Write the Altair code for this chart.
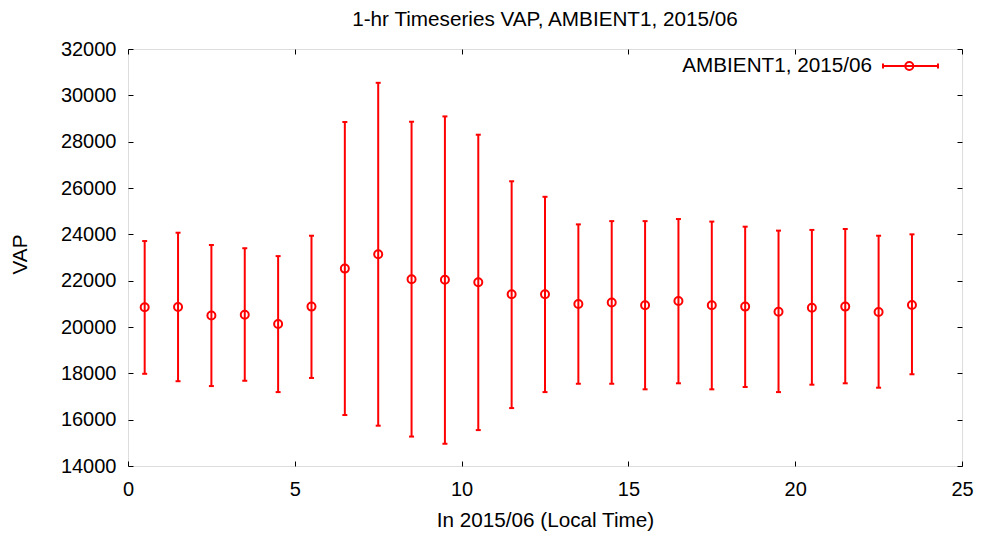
import altair as alt
import pandas as pd

# ---- data ----
hour_mid = [0.5, 1.5, 2.5, 3.5, 4.5, 5.5, 6.5, 7.5, 8.5, 9.5, 10.5, 11.5,
            12.5, 13.5, 14.5, 15.5, 16.5, 17.5, 18.5, 19.5, 20.5, 21.5, 22.5, 23.5]
vap_mean = [20850, 20860, 20500, 20530, 20130, 20880, 22520, 23140, 22060, 22040, 21930, 21410,
            21410, 20990, 21060, 20940, 21120, 20940, 20880, 20660, 20830, 20880, 20650, 20950]
vap_upper = [23710, 24070, 23540, 23400, 23060, 23940, 28850, 30540, 28860, 29090, 28300, 26290,
             25620, 24430, 24570, 24570, 24660, 24550, 24330, 24160, 24190, 24230, 23940, 24000]
vap_lower = [17980, 17660, 17450, 17680, 17190, 17800, 16200, 15740, 15270, 14960, 15550, 16500,
             17190, 17550, 17550, 17310, 17570, 17310, 17410, 17190, 17510, 17570, 17380, 17960]
series_label = "AMBIENT1, 2015/06"

x_ticks = [0, 5, 10, 15, 20, 25]
y_ticks = [14000, 16000, 18000, 20000, 22000, 24000, 26000, 28000, 30000, 32000]

df = pd.DataFrame({
    "hour": hour_mid,
    "mean": vap_mean,
    "upper": vap_upper,
    "lower": vap_lower,
    "series": [series_label] * len(hour_mid),
})

FONT = "Liberation Sans"
RED = "#ff0000"
FS = 20      # tick labels
FS2 = 20.7   # titles and legend text

xscale = alt.Scale(domain=[0, 25], nice=False, zero=False)
yscale = alt.Scale(domain=[14000, 32000], nice=False, zero=False)

common_axis = dict(offset=-5, tickSize=5, tickColor="black", tickWidth=1,
                   domain=False, grid=False)

x_bottom = alt.Axis(orient="bottom", values=x_ticks, labelPadding=13, labelFlush=False,
                    labelFont=FONT, labelFontSize=FS, labelColor="black",
                    title="In 2015/06 (Local Time)", titleFont=FONT, titleFontSize=FS2,
                    titleFontWeight="normal", titleColor="black",
                    titleBaseline="alphabetic", titleY=65, **common_axis)
y_left = alt.Axis(orient="left", values=y_ticks, format="d", labelPadding=12,
                  labelFont=FONT, labelFontSize=FS, labelColor="black",
                  title="VAP", titleFont=FONT, titleFontSize=FS2, titleFontWeight="normal",
                  titleColor="black", titleAngle=270, titleBaseline="middle",
                  titleAlign="center", titleX=-113, titleY=205, **common_axis)
x_top = alt.Axis(orient="top", values=x_ticks, labels=False, title=None, **common_axis)
y_right = alt.Axis(orient="right", values=y_ticks, labels=False, title=None, **common_axis)

# legend key drawn to the right of its nominal position (units of 10 px):
# errorbar line with end caps and an open circle, like gnuplot's key sample
legend_path = ("M2.2,0L7.7,0M2.2,-0.25L2.2,0.25M7.7,-0.25L7.7,0.25"
               "M4.43,0A0.4,0.4,0,1,0,5.23,0A0.4,0.4,0,1,0,4.43,0")

legend = alt.Legend(title=None, orient="none", legendX=722, legendY=6,
                    symbolType=legend_path, symbolSize=400, symbolStrokeWidth=2,
                    symbolOffset=0, labelLimit=0,
                    labelFont=FONT, labelFontSize=FS2, labelColor="black",
                    labelAlign="right", labelOffset=0, padding=0)

base = alt.Chart(df)

bars = base.mark_rule(color=RED, strokeWidth=2).encode(
    x=alt.X("hour:Q", scale=xscale, axis=x_bottom),
    y=alt.Y("lower:Q", scale=yscale, axis=y_left),
    y2="upper:Q",
)
caps_top = base.mark_tick(color=RED, orient="horizontal", size=5, thickness=2, opacity=1).encode(
    x=alt.X("hour:Q", scale=xscale, axis=None),
    y=alt.Y("upper:Q", scale=yscale, axis=None),
)
caps_bot = base.mark_tick(color=RED, orient="horizontal", size=5, thickness=2, opacity=1).encode(
    x=alt.X("hour:Q", scale=xscale, axis=None),
    y=alt.Y("lower:Q", scale=yscale, axis=None),
)
points = base.mark_point(shape="circle", filled=False, size=64, strokeWidth=2, opacity=1).encode(
    x=alt.X("hour:Q", scale=xscale, axis=x_top),
    y=alt.Y("mean:Q", scale=yscale, axis=y_right),
    color=alt.Color("series:N", scale=alt.Scale(range=[RED]), legend=legend),
)

chart = (
    alt.layer(bars, caps_top, caps_bot, points)
    .resolve_scale(x="shared", y="shared")
    .resolve_axis(x="independent", y="independent")
    .properties(
        width=834, height=417,
        title=alt.TitleParams("1-hr Timeseries VAP, AMBIENT1, 2015/06", font=FONT,
                              fontSize=FS2, fontWeight="normal", color="black",
                              anchor="middle", baseline="alphabetic", offset=-8),
        autosize=alt.AutoSizeParams(type="none"),
        padding={"left": 120, "top": 41, "right": 16, "bottom": 66},
    )
    .configure_view(stroke="black", strokeWidth=1)
    .configure(background="white")
)

chart.save("out.html", embed_options={"renderer": "svg", "actions": False})
